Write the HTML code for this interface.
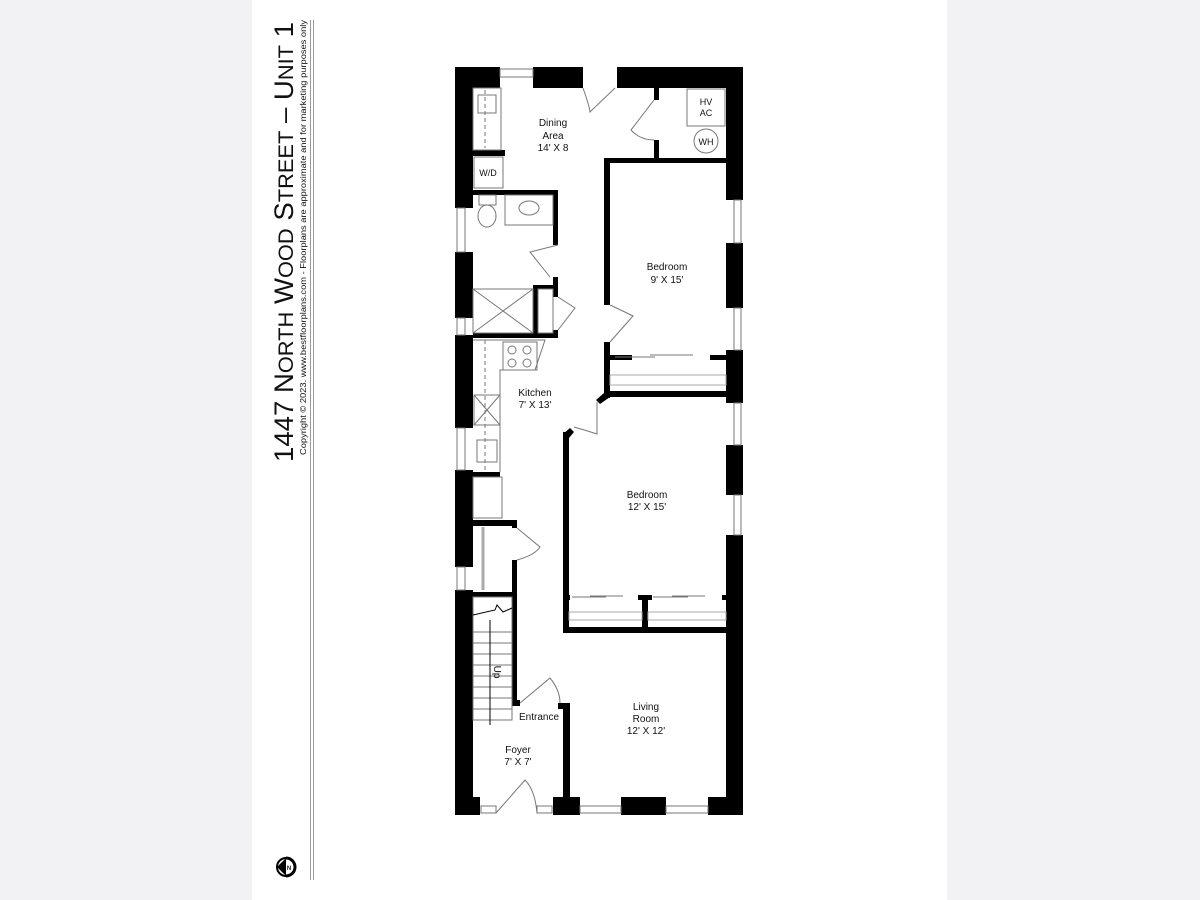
<!DOCTYPE html>
<html><head><meta charset="utf-8"><style>
html,body{margin:0;padding:0;background:#f2f2f4;}
svg{display:block}
text{font-family:"Liberation Sans",sans-serif;fill:#111}
</style></head><body>
<svg width="1200" height="900" viewBox="0 0 1200 900" xmlns="http://www.w3.org/2000/svg">
<rect x="0" y="0" width="1200" height="900" fill="#f2f2f4"/>
<rect x="252" y="0" width="695" height="900" fill="#fff"/>
<!-- title -->
<g transform="translate(293,462) rotate(-90)">
<text x="0" y="0" font-size="26.5" textLength="440" lengthAdjust="spacingAndGlyphs">1447 N<tspan font-size="21">ORTH</tspan> W<tspan font-size="21">OOD</tspan> S<tspan font-size="21">TREET</tspan> – U<tspan font-size="21">NIT</tspan> 1</text>
</g>
<g transform="translate(306,455) rotate(-90)">
<text x="0" y="0" font-size="8.5" textLength="435" lengthAdjust="spacingAndGlyphs">Copyright © 2023. www.bestfloorplans.com - Floorplans are approximate and for marketing purposes only</text>
</g>
<line x1="310.5" y1="20" x2="310.5" y2="880" stroke="#999" stroke-width="1"/>
<line x1="313.5" y1="20" x2="313.5" y2="880" stroke="#999" stroke-width="1"/>
<!-- compass -->
<circle cx="286" cy="867" r="9" fill="#fff" stroke="#000" stroke-width="2"/>
<path d="M277 867 L286 858 L286 876 Z" fill="#000"/>
<path d="M286 858 A9 9 0 0 1 286 876" fill="none" stroke="#000" stroke-width="3"/>
<text x="289" y="870" font-size="6" font-weight="bold" text-anchor="middle">N</text>

<g fill="#000">
<rect x="455" y="67" width="45" height="21"/>
<rect x="533" y="67" width="50" height="21"/>
<rect x="617" y="67" width="126" height="21"/>
<rect x="455" y="67" width="18" height="141"/>
<rect x="455" y="252" width="18" height="66"/>
<rect x="455" y="335" width="18" height="93"/>
<rect x="455" y="470" width="18" height="97"/>
<rect x="455" y="590" width="18" height="225"/>
<rect x="726" y="67" width="17" height="133"/>
<rect x="726" y="243" width="17" height="65"/>
<rect x="726" y="350" width="17" height="53"/>
<rect x="726" y="445" width="17" height="50"/>
<rect x="726" y="535" width="17" height="280"/>
<rect x="455" y="797" width="25" height="18"/>
<rect x="553" y="797" width="27" height="18"/>
<rect x="621" y="797" width="45" height="18"/>
<rect x="708" y="797" width="35" height="18"/>
<rect x="654" y="88" width="5" height="12"/>
<rect x="654" y="140" width="5" height="20"/>
<rect x="604" y="158" width="122" height="5"/>
<rect x="604" y="158" width="6" height="147"/>
<rect x="604" y="342" width="6" height="56"/>
<rect x="610" y="355" width="22" height="5"/>
<rect x="710" y="355" width="16" height="5"/>
<rect x="604" y="391" width="122" height="6"/>
<path d="M604 393 L610 397 L600 404 L596 400 Z"/>
<rect x="473" y="150" width="32" height="6"/>
<rect x="473" y="190" width="85" height="5"/>
<rect x="553" y="190" width="5" height="55"/>
<rect x="553" y="277" width="5" height="20"/>
<rect x="553" y="330" width="5" height="8"/>
<rect x="533" y="285" width="5" height="52"/>
<rect x="533" y="285" width="20" height="4"/>
<rect x="473" y="333" width="85" height="5"/>
<rect x="473" y="472" width="27" height="5"/>
<rect x="473" y="520" width="44" height="6"/>
<rect x="512" y="520" width="5" height="8"/>
<rect x="512" y="560" width="5" height="145"/>
<rect x="455" y="592" width="62" height="5"/>
<rect x="512" y="700" width="8" height="6"/>
<rect x="563" y="432" width="6" height="201"/>
<path d="M563 434 L570 428 L574 432 L569 438 Z"/>
<rect x="563" y="627" width="163" height="6"/>
<rect x="642" y="595" width="6" height="38"/>
<rect x="638" y="595" width="14" height="5"/>
<rect x="563" y="595" width="7" height="5"/>
<rect x="722" y="595" width="4" height="5"/>
<rect x="563" y="703" width="7" height="112"/>
<rect x="558" y="703" width="12" height="6"/>
</g>

<g fill="none" stroke="#777" stroke-width="1">
<rect x="500" y="69" width="33" height="8"/>
<rect x="457" y="208" width="8" height="44"/>
<rect x="457" y="318" width="8" height="17"/>
<rect x="457" y="428" width="8" height="42"/>
<rect x="457" y="567" width="8" height="23"/>
<rect x="734" y="200" width="7" height="43"/>
<rect x="734" y="308" width="7" height="42"/>
<rect x="734" y="403" width="7" height="42"/>
<rect x="734" y="495" width="7" height="40"/>
<rect x="580" y="806" width="41" height="7"/>
<rect x="666" y="806" width="42" height="7"/>
<rect x="481" y="806" width="15" height="7"/>
<rect x="537" y="806" width="15" height="7"/>
<rect x="473" y="88" width="28" height="62"/>
<line x1="485" y1="90" x2="485" y2="148" stroke-dasharray="4,3"/>
<rect x="478" y="95" width="18" height="18"/>
<rect x="474" y="157" width="29" height="31"/>
<rect x="687" y="89" width="38" height="37"/>
<circle cx="706" cy="141" r="12"/>
<rect x="479" y="195" width="17" height="10"/>
<ellipse cx="487" cy="216" rx="9" ry="11"/>
<rect x="505" y="195" width="48" height="30"/>
<ellipse cx="529" cy="208" rx="10" ry="7"/>
<rect x="473" y="289" width="60" height="44"/>
<line x1="473" y1="289" x2="533" y2="333"/><line x1="533" y1="289" x2="473" y2="333"/>
<rect x="538" y="289" width="15" height="44"/>
<rect x="503" y="342" width="34" height="28"/>
<circle cx="512" cy="350" r="4"/><circle cx="527" cy="350" r="4"/>
<circle cx="512" cy="363" r="4"/><circle cx="527" cy="363" r="4"/>
<path d="M473 340 L538 340 L545 340 L535 370 L500 370 L500 472"/>
<line x1="485" y1="340" x2="485" y2="470" stroke-dasharray="4,3"/>
<rect x="474" y="395" width="26" height="30"/>
<line x1="474" y1="395" x2="500" y2="425"/><line x1="500" y1="395" x2="474" y2="425"/>
<rect x="477" y="440" width="20" height="22"/>
<rect x="473" y="477" width="29" height="41"/>
<line x1="483" y1="527" x2="483" y2="590" stroke="#aaa" stroke-width="3"/>
<rect x="473" y="597" width="39" height="123"/>
<line x1="473" y1="632" x2="512" y2="632"/><line x1="473" y1="643" x2="512" y2="643"/>
<line x1="473" y1="654" x2="512" y2="654"/><line x1="473" y1="665" x2="512" y2="665"/>
<line x1="473" y1="676" x2="512" y2="676"/><line x1="473" y1="687" x2="512" y2="687"/>
<line x1="473" y1="698" x2="512" y2="698"/><line x1="473" y1="709" x2="512" y2="709"/>
<line x1="490" y1="620" x2="490" y2="725" stroke="#000"/>
<path d="M473 615 L495 610 L497 605 L503 612 L512 608" stroke="#000"/>
<rect x="610" y="375" width="116" height="10" stroke="#aaa"/>
<rect x="569" y="612" width="73" height="8" stroke="#aaa"/>
<rect x="648" y="612" width="78" height="8" stroke="#aaa"/>
<line x1="615" y1="357" x2="655" y2="357"/><line x1="650" y1="355" x2="693" y2="355"/>
<line x1="572" y1="597" x2="606" y2="597"/><line x1="590" y1="596" x2="623" y2="596"/>
<line x1="653" y1="597" x2="688" y2="597"/><line x1="672" y1="596" x2="705" y2="596"/>
<path d="M583 88 Q590 108 590 112 L615 88"/>
<path d="M654 100 L631 130 Q640 140 654 140"/>
<path d="M558 245 L530 252 L550 277"/>
<path d="M610 305 Q625 312 633 316 L610 342"/>
<path d="M558 297 L575 308 L558 330"/>
<path d="M597 402 L597 434 Q585 430 574 427"/>
<path d="M517 528 L540 547 Q535 555 517 560"/>
<path d="M520 703 L550 678 Q560 690 560 703"/>
<path d="M496 813 L525 780 Q535 790 537 813"/>
</g>

<g font-size="10" text-anchor="middle">
<text x="553" y="126">Dining</text><text x="553" y="139">Area</text><text x="553" y="151">14' X 8</text>
<text x="706" y="105" font-size="9">HV</text><text x="706" y="116" font-size="9">AC</text>
<text x="706" y="145" font-size="9">WH</text>
<text x="488" y="176" font-size="9">W/D</text>
<text x="667" y="270">Bedroom</text><text x="667" y="283">9' X 15'</text>
<text x="535" y="396">Kitchen</text><text x="535" y="408">7' X 13'</text>
<text x="647" y="498">Bedroom</text><text x="647" y="510">12' X 15'</text>
<text x="646" y="710">Living</text><text x="646" y="722">Room</text><text x="646" y="734">12' X 12'</text>
<text x="539" y="720">Entrance</text>
<text x="518" y="753">Foyer</text><text x="518" y="765">7' X 7'</text>
<text x="0" y="0" transform="translate(494,672) rotate(90)">Up</text>
</g>
</svg>
</body></html>
